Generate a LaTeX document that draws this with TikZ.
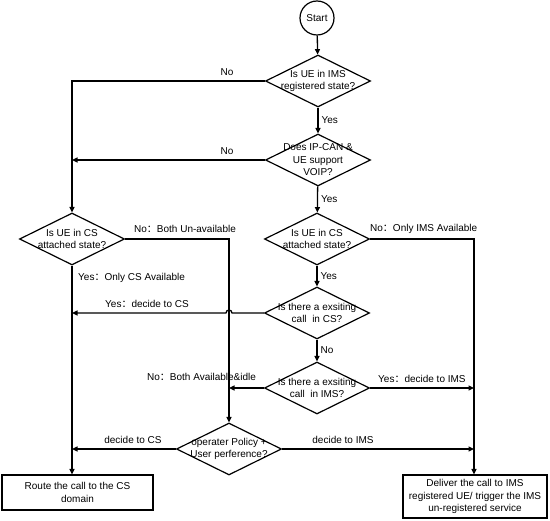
\documentclass[tikz,border=0pt]{standalone}
\usepackage{fontspec}
\setmainfont{Liberation Sans}
\newfontfamily\cjk{Noto Sans CJK SC}
\usetikzlibrary{shapes.geometric,arrows.meta}
\newcommand{\cc}{{\cjk ：}}
\begin{document}
\begin{tikzpicture}[x=1pt,y=-1pt,
  every node/.style={font=\fontsize{10}{12.5}\selectfont},
  line/.style={line width=1.3pt,black},
  arr/.style={line,-{Triangle[length=5.5pt,width=5pt]}},
  dia/.style={draw,line width=1.2pt,diamond,minimum width=105pt,minimum height=52pt,inner sep=0pt},
  dtext/.style={align=center,inner sep=0pt},
  box/.style={draw,line width=1.2pt,rectangle,align=center,inner sep=0pt},
  lbl/.style={inner sep=1pt}]
\useasboundingbox (0,0) rectangle (550,521);
% nodes
\node[draw,line width=1.2pt,circle,minimum size=34pt,inner sep=0pt] (start) at (317,18) {Start};
\node[dia] (d1) at (318,81) {};
\node[dtext] (t1) at (d1) {Is UE in IMS\\registered state?};
\node[dia] (d2) at (318,160) {};
\node[dtext] (t2) at (d2) {Does IP-CAN \&\\UE support\\VOIP?};
\node[dia] (d3) at (72,239) {};
\node[dtext] (t3) at (d3) {Is UE in CS\\attached state?};
\node[dia] (d4) at (317,239) {};
\node[dtext] (t4) at (d4) {Is UE in CS\\attached state?};
\node[dia] (d5) at (317,313) {};
\node[dtext] (t5) at (d5) {Is there a exsiting\\call\ \ in CS?};
\node[dia] (d6) at (317,388) {};
\node[dtext] (t6) at (d6) {Is there a exsiting\\call\ \ in IMS?};
\node[dia] (d7) at (229,449) {};
\node[dtext] (t7) at (d7) {operater Policy +\\User perference?};
\node[box,minimum width=151pt,minimum height=35pt] (b1) at (77.5,492.5) {Route the call to the CS\\domain};
\node[box,minimum width=144pt,minimum height=43pt] (b2) at (475,496.5) {Deliver the call to IMS\\registered UE/ trigger the IMS\\un-registered service};
% junction coordinates
\coordinate (jl1) at (72,81);
\coordinate (jl2) at (72,160);
\coordinate (jl3) at (72,313);
\coordinate (jl4) at (72,449);
\coordinate (jm1) at (229,239);
\coordinate (jm2) at (229,388);
\coordinate (hopR) at (232,313);
\coordinate (jr1) at (474,239);
\coordinate (jr2) at (474,388);
\coordinate (jr3) at (474,449);
% main column
\draw[arr] (start) -- (d1);
\draw[arr] (d1) -- node[lbl,right,xshift=2pt]{Yes} (d2);
\draw[arr] (d2) -- node[lbl,right,xshift=2pt]{Yes} (d4);
\draw[arr] (d4) -- node[lbl,right,xshift=2pt]{Yes} (d5);
\draw[arr] (d5) -- node[lbl,right,xshift=2pt]{No} (d6);
% left column
\draw[arr] (d1.west) -- (jl1) -- (d3.north);
\node[lbl] (n1) at (227,72) {No};
\draw[arr] (d2.west) -- (jl2);
\node[lbl] (n2) at (227,151) {No};
\draw[arr] (d3.south) -- (b1.north -| d3.south);
\node[lbl,anchor=west] (l3) at (77,278) {Yes\cc Only CS Available};
\draw[arr] (d5.west) -- (hopR) arc[start angle=0,end angle=180,radius=3pt] -- (jl3);
\node[lbl,anchor=west] (l5) at (104,304) {Yes\cc decide to CS};
\draw[arr] (d7.west) -- (jl4);
\node[lbl] (l7a) at (133,440) {decide to CS};
% middle line
\draw[arr] (d3.east) -- (jm1) -- (d7.north);
\node[lbl,anchor=west] (l3b) at (133,229) {No\cc Both Un-available};
\draw[arr] (d6.west) -- (jm2);
\node[lbl,anchor=west] (l6a) at (146,377) {No\cc Both Available\&idle};
% right line
\draw[arr] (d4.east) -- (jr1) -- (b2.north -| jr1);
\node[lbl,anchor=west] (l4) at (369,229) {No\cc Only IMS Available};
\draw[arr] (d6.east) -- (jr2);
\node[lbl,anchor=west] (l6b) at (377,379) {Yes\cc decide to IMS};
\draw[arr] (d7.east) -- (jr3);
\node[lbl] (l7b) at (343,440) {decide to IMS};
\end{tikzpicture}
\end{document}
